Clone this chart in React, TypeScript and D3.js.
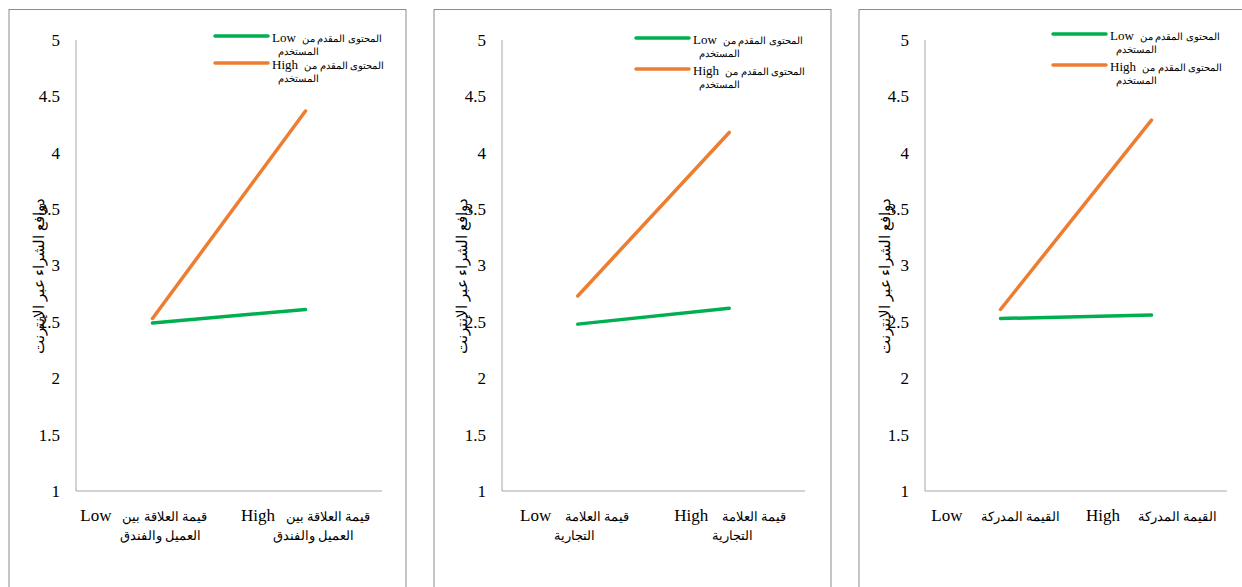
import React from "react";
import * as d3 from "d3";

const levels = ["Low", "High"];
const yTicks = [1, 1.5, 2, 2.5, 3, 3.5, 4, 4.5, 5];
const yTitle = "دوافع الشراء عبر الإنترنت";

const catName1 = ["قيمة العلاقة بين", "العميل والفندق"];
const catName2 = ["قيمة العلامة", "التجارية"];
const catName3 = ["القيمة المدركة"];

const legendName = ["المحتوى المقدم من", "المستخدم"];

const lowContent1 = [2.49, 2.61];
const highContent1 = [2.53, 4.37];
const lowContent2 = [2.48, 2.62];
const highContent2 = [2.73, 4.18];
const lowContent3 = [2.53, 2.56];
const highContent3 = [2.61, 4.29];

const GREEN = "#00B050";
const ORANGE = "#ED7D31";

const panels = [
  { frameX: 9, frameW: 397, axL: 76, axR: 382, titleX: 39, legX: 215, legY: 36, legGap: 27, gap: 11, off: [-9, 0], off2: [8, 8], cats: catName1, low: lowContent1, high: highContent1 },
  { frameX: 434, frameW: 397, axL: 502, axR: 805, titleX: 462, legX: 636, legY: 38, legGap: 31, gap: 14, off: [-3, 1], off2: [-3, 3], cats: catName2, low: lowContent2, high: highContent2 },
  { frameX: 859, frameW: 400, axL: 925, axR: 1227, titleX: 885, legX: 1053, legY: 34, legGap: 31, gap: 18, off: [-5, 0], off2: [0, 0], cats: catName3, low: lowContent3, high: highContent3 },
];

const serif = "Liberation Serif, DejaVu Serif, serif";

function Panel({ p }: { p: (typeof panels)[number] }) {
  const y = d3.scaleLinear().domain([1, 5]).range([491, 40]);
  const x = d3.scaleBand<string>().domain(levels).range([p.axL, p.axR]).padding(0);
  const cx = (d: string) => (x(d) as number) + x.bandwidth() / 2;
  const line = d3
    .line<number>()
    .x((_, i) => cx(levels[i]))
    .y((v) => y(v));
  const series = [
    { vals: p.low, color: GREEN, level: levels[0] },
    { vals: p.high, color: ORANGE, level: levels[1] },
  ];
  return (
    <g>
      <rect x={p.frameX} y={9.5} width={p.frameW} height={620} fill="#fff" stroke="#8c8c8c" strokeWidth={1} />
      <line x1={p.axL} x2={p.axL} y1={y(5)} y2={y(1)} stroke="#a6a6a6" strokeWidth={1} />
      <line x1={p.axL} x2={p.axR} y1={y(1)} y2={y(1)} stroke="#a6a6a6" strokeWidth={1} />
      {yTicks.map((t) => (
        <text key={t} x={p.axL - 16} y={y(t)} dy="0.35em" textAnchor="end" style={{ fontFamily: serif }} fontSize={17} fill="#000">
          {t}
        </text>
      ))}
      <text
        transform={`translate(${p.titleX},${276}) rotate(-90)`}
        textAnchor="middle"
        dy="0.35em"
        style={{ fontFamily: serif }}
        fontSize={14.5}
        fill="#000"
      >
        {yTitle}
      </text>
      {levels.map((lv, i) => (
        <g key={lv}>
          <text x={cx(lv) + p.off[i]} y={521} textAnchor="middle" style={{ fontFamily: serif }} fill="#000">
            <tspan fontSize={17}>{lv}</tspan>
            <tspan fontSize={12.5} dx={p.gap}>{p.cats[0]}</tspan>
          </text>
          {p.cats.slice(1).map((ln, j) => (
            <text key={j} x={cx(lv) + p.off2[i]} y={540 + j * 19} textAnchor="middle" style={{ fontFamily: serif }} fontSize={12.5} fill="#000">
              {ln}
            </text>
          ))}
        </g>
      ))}
      {series.map((s, k) => (
        <path key={k} d={line(s.vals) || ""} fill="none" stroke={s.color} strokeWidth={3.5} strokeLinecap="round" />
      ))}
      {series.map((s, k) => {
        const ly = p.legY + k * p.legGap;
        return (
          <g key={"l" + k}>
            <line x1={p.legX} x2={p.legX + 53} y1={ly} y2={ly} stroke={s.color} strokeWidth={3.5} strokeLinecap="round" />
            <text x={p.legX + 57} y={ly} dy="0.35em" style={{ fontFamily: serif }} fill="#000">
              <tspan fontSize={13}>{s.level}</tspan>
              <tspan fontSize={10} dx={6}>{legendName[0]}</tspan>
            </text>
            <text x={p.legX + 63} y={ly + 16} dy="0.35em" style={{ fontFamily: serif }} fontSize={9.5} fill="#000">
              {legendName[1]}
            </text>
          </g>
        );
      })}
    </g>
  );
}

export default function App() {
  return (
    <svg
      width={1242}
      height={587}
      viewBox="0 0 1242 587"
      style={{ position: "fixed", left: 0, top: 0, background: "#fff" }}
    >
      <rect width={1242} height={587} fill="#fff" />
      {panels.map((p, i) => (
        <Panel key={i} p={p} />
      ))}
    </svg>
  );
}
